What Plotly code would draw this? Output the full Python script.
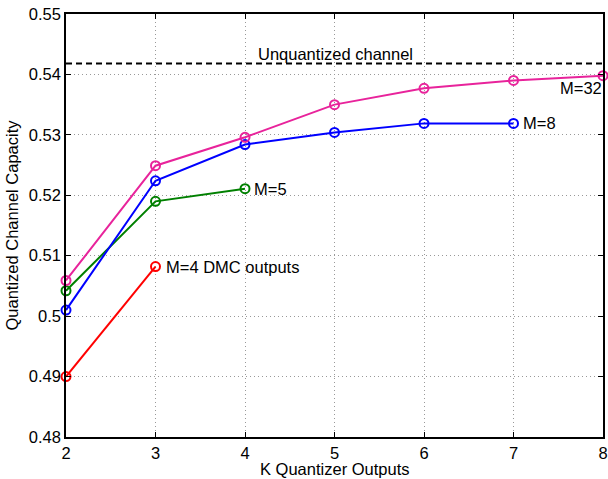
import plotly.graph_objects as go

k_m32 = [2, 3, 4, 5, 6, 7, 8]
cap_m32 = [0.5059, 0.5249, 0.5296, 0.5350, 0.5377, 0.5390, 0.5398]
k_m8 = [2, 3, 4, 5, 6, 7]
cap_m8 = [0.5010, 0.5224, 0.5284, 0.5304, 0.5319, 0.5319]
k_m5 = [2, 3, 4]
cap_m5 = [0.5042, 0.5190, 0.5211]
k_m4 = [2, 3]
cap_m4 = [0.4900, 0.5082]
unquantized = 0.5418
x_ticks = [2, 3, 4, 5, 6, 7, 8]
y_ticks = [0.48, 0.49, 0.50, 0.51, 0.52, 0.53, 0.54, 0.55]
y_tick_text = ["0.48", "0.49", "0.5", "0.51", "0.52", "0.53", "0.54", "0.55"]

FONT = "Liberation Sans, Arial, Helvetica, sans-serif"

fig = go.Figure()

fig.add_trace(go.Scatter(x=[2, 8], y=[unquantized, unquantized], mode="lines",
                         line=dict(color="black", width=2, dash="6px,4px"), showlegend=False))

series = [
    (k_m4, cap_m4, "#ff0000"),
    (k_m5, cap_m5, "#008000"),
    (k_m8, cap_m8, "#0000ff"),
    (k_m32, cap_m32, "#e8239b"),
]
for xs, ys, c in series:
    fig.add_trace(go.Scatter(x=xs, y=ys, mode="lines+markers",
                             line=dict(color=c, width=2),
                             marker=dict(symbol="circle-open", size=9, color=c, line=dict(width=2, color=c)),
                             cliponaxis=False, showlegend=False))

ann_font = dict(family=FONT, size=16.5, color="black")
fig.add_annotation(x=4.12, y=unquantized, text="Unquantized channel", showarrow=False,
                   xanchor="left", yanchor="bottom", yshift=-1, font=ann_font)
fig.add_annotation(x=8, y=cap_m32[-1], text="M=32", showarrow=False,
                   xanchor="right", yanchor="top", yshift=-1, xshift=1, font=ann_font)
fig.add_annotation(x=7, y=cap_m8[-1], text="M=8", showarrow=False,
                   xanchor="left", yanchor="middle", xshift=7, font=ann_font)
fig.add_annotation(x=4, y=cap_m5[-1], text="M=5", showarrow=False,
                   xanchor="left", yanchor="middle", xshift=7, font=ann_font)
fig.add_annotation(x=3, y=cap_m4[-1], text="M=4 DMC outputs", showarrow=False,
                   xanchor="left", yanchor="middle", xshift=8, font=ann_font)
# x-axis title
fig.add_annotation(x=0.5, y=0, xref="paper", yref="paper", text="K Quantizer Outputs",
                   showarrow=False, xanchor="center", yanchor="middle", yshift=-32,
                   font=dict(family=FONT, size=16.5, color="black"))

axis_common = dict(showline=True, linecolor="black", linewidth=1.5, mirror="ticks",
                   ticks="inside", ticklen=5, tickcolor="black", tickwidth=1,
                   showgrid=True, gridcolor="#999999", griddash="1px,3px", gridwidth=1,
                   zeroline=False, tickfont=dict(family=FONT, size=16.5, color="black"))

fig.update_xaxes(range=[2, 8], tickvals=x_ticks, **axis_common)
fig.update_yaxes(range=[0.48, 0.55], tickvals=y_ticks, ticktext=y_tick_text,
                 title=dict(text="Quantized Channel Capacity", font=dict(family=FONT, size=16.5, color="black"), standoff=6),
                 **axis_common)

fig.update_layout(width=608, height=479, margin=dict(l=66, r=5, t=14, b=42, autoexpand=False),
                  paper_bgcolor="white", plot_bgcolor="white")

fig.write_html("out.html", config={"displayModeBar": False},
               post_script="document.body.style.margin='0';document.body.style.overflow='hidden';")
